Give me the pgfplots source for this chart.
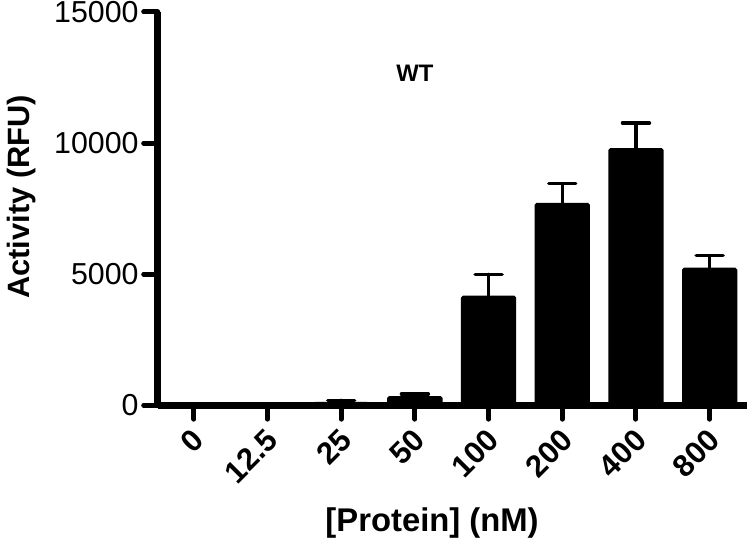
\documentclass[border=0pt]{standalone}
\usepackage{pgfplots}
\pgfplotsset{compat=1.18}
\usepackage{fontspec}
\setmainfont{Liberation Sans}
\newcommand{\xt}[1]{{\fontsize{31}{31}\selectfont\bfseries #1}}
\begin{document}
\begin{tikzpicture}
\begin{axis}[
  name=ax,
  scale only axis,
  width=590bp, height=394bp,
  xmin=-0.49, xmax=7.5,
  ymin=0, ymax=15000,
  axis x line=bottom, axis y line=left,
  every outer x axis line/.append style={-, line width=7bp},
  every outer y axis line/.append style={-, line width=7bp},
  axis line style={-, line width=7bp},
  xtick={0,...,7},
  xticklabels={\xt{0},\xt{12.5},\xt{25},\xt{50},\xt{100},\xt{200},\xt{400},\xt{800}},
  ytick={0,5000,10000,15000},
  scaled y ticks=false,
  /pgf/number format/1000 sep={},
  /pgf/number format/assume math mode=true,
  tick align=outside,
  major tick length=14bp,
  every tick/.style={line width=5bp, black, line cap=round},
  yticklabel style={font=\fontsize{30.5}{30.5}\selectfont, inner sep=0pt, xshift=-5bp},
  xticklabel style={anchor=north east, inner sep=0pt, xshift=-3bp, yshift=-8bp, rotate=45},
  ylabel={\bfseries Activity (RFU)},
  xlabel={\bfseries [Protein] (nM)},
  ylabel style={font=\fontsize{31}{31}\selectfont, at={(axis description cs:-0.256,0.53)}, anchor=north, inner sep=0pt, rotate=0},
  xlabel style={font=\fontsize{33}{33}\selectfont, at={(axis description cs:0.466,-0.32)}, anchor=base, inner sep=0pt},
  clip=false,
]
\addplot[ybar, bar width=0.73, fill=black, draw=black, line width=1.5bp, rounded corners=1.5bp,
  error bars/.cd, y dir=plus, y explicit,
  error bar style={line width=3.5bp, black, line cap=round},
  error mark options={rotate=90, line width=3.5bp, black, mark size=13.5bp, line cap=round}]
  coordinates {
  (0,0) +- (0,0)
  (1,0) +- (0,0)
  (2,100) +- (0,80)
  (3,320) +- (0,100)
  (4,4150) +- (0,840)
  (5,7690) +- (0,760)
  (6,9780) +- (0,990)
  (7,5215) +- (0,495)
  };
\node[font=\bfseries\fontsize{24}{24}\selectfont] at (axis cs:3,12650) {WT};
\end{axis}
\path (ax.south west) ++(-158bp,-136bp) rectangle ++(750bp,542bp);
\end{tikzpicture}
\end{document}
